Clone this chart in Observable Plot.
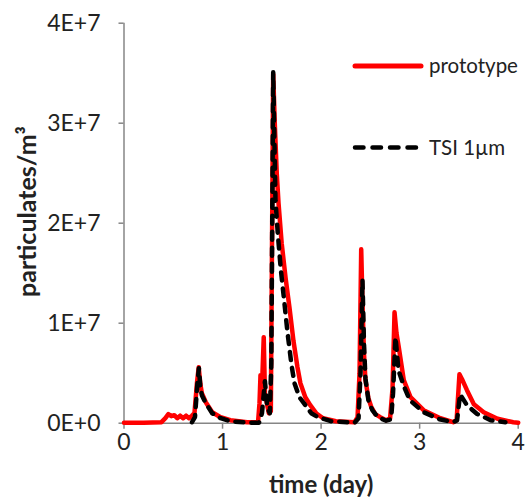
<!DOCTYPE html>
<html><head><meta charset="utf-8">
<script src="https://cdn.jsdelivr.net/npm/d3@7"></script>
<script src="https://cdn.jsdelivr.net/npm/@observablehq/plot@0.6"></script>
<style>
body{margin:0;background:#fff}
#wrap{position:relative;width:529px;height:499px;font-family:Lato,sans-serif;color:#222}
[aria-label="y-axis tick"],[aria-label="x-axis tick"]{stroke:#868686;stroke-width:1.5}
.leg{position:absolute;left:0;top:0}
</style></head><body><div id="wrap"></div>
<script>
// prototype series (red) — time in days, particulates per m³
const protoDay = [0,0.2,0.38,0.42,0.45,0.48,0.51,0.54,0.57,0.60,0.63,0.66,0.69,0.715,0.74,0.758,0.775,0.79,0.83,0.895,0.98,1.08,1.25,1.36,1.375,1.385,1.40,1.418,1.43,1.445,1.47,1.49,1.514,1.53,1.55,1.568,1.60,1.64,1.68,1.72,1.76,1.79,1.84,1.89,1.95,2.02,2.15,2.34,2.37,2.39,2.407,2.42,2.435,2.45,2.48,2.51,2.55,2.60,2.66,2.70,2.725,2.745,2.765,2.788,2.839,2.907,3.04,3.21,3.34,3.375,3.404,3.43,3.48,3.55,3.65,3.79,3.95,4.0];
const protoValue = [0.05e6,0.05e6,0.1e6,0.5e6,0.9e6,0.7e6,0.8e6,0.5e6,0.75e6,0.5e6,0.75e6,0.5e6,0.75e6,1.0e6,4.0e6,5.6e6,3.9e6,3.0e6,2.1e6,1.1e6,0.6e6,0.3e6,0.1e6,0.1e6,2.0e6,4.8e6,3.5e6,8.6e6,3.0e6,2.2e6,1.0e6,1.2e6,34.9e6,30e6,25e6,22e6,18e6,14.5e6,11.5e6,8.2e6,5.6e6,4.0e6,2.6e6,1.8e6,1.0e6,0.5e6,0.2e6,0.1e6,0.6e6,5e6,17.4e6,12e6,7e6,4.3e6,2.5e6,1.6e6,0.9e6,0.6e6,0.3e6,0.5e6,3.5e6,11.1e6,9.0e6,7.6e6,4.3e6,2.6e6,1.3e6,0.5e6,0.1e6,0.3e6,4.9e6,4.4e6,3.3e6,1.9e6,1.1e6,0.45e6,0.1e6,0.05e6];
// TSI 1µm series (black dashed)
const tsiDay = [0.69,0.72,0.745,0.76,0.775,0.79,0.83,0.895,0.98,1.08,1.25,1.37,1.40,1.43,1.455,1.48,1.495,1.514,1.525,1.537,1.56,1.59,1.628,1.66,1.70,1.73,1.78,1.84,1.90,1.97,2.1,2.34,2.38,2.40,2.42,2.435,2.45,2.48,2.52,2.56,2.60,2.66,2.71,2.73,2.755,2.785,2.836,2.90,3.04,3.2,3.34,3.38,3.41,3.48,3.58,3.72,3.87];
const tsiValue = [0.1e6,0.6e6,4.0e6,5.5e6,3.6e6,2.8e6,2.0e6,1.0e6,0.5e6,0.2e6,0.05e6,0.05e6,1.0e6,4.2e6,1.5e6,1.0e6,6e6,35.1e6,29e6,22.3e6,19e6,15.5e6,12e6,9e6,5.8e6,4.0e6,2.6e6,1.8e6,1.0e6,0.6e6,0.2e6,0.05e6,0.5e6,5e6,14.3e6,8e6,4.5e6,2.3e6,1.3e6,0.8e6,0.5e6,0.25e6,0.4e6,3e6,8.6e6,5.3e6,3.8e6,2.3e6,1.1e6,0.4e6,0.1e6,0.3e6,2.9e6,1.8e6,0.95e6,0.3e6,0.1e6];

const xTickValues = [0,1,2,3,4];
const xTickLabels = ["0","1","2","3","4"];
const yTickValues = [0,1e7,2e7,3e7,4e7];
const yTickLabels = ["0E+0","1E+7","2E+7","3E+7","4E+7"];
const xTitle = "time (day)";
const yTitle = "particulates/m³";
const seriesNames = ["prototype","TSI 1µm"];

const proto = protoDay.map((d,i)=>({day:d,value:protoValue[i]}));
const tsi = tsiDay.map((d,i)=>({day:d,value:tsiValue[i]}));

const chart = Plot.plot({
  width:529, height:499,
  marginLeft:123.5, marginRight:11.3, marginTop:22.7, marginBottom:76.3,
  style:{fontFamily:"Lato", fontSize:"23px", color:"#222", background:"#fff", overflow:"visible"},
  x:{domain:[0,4]},
  y:{domain:[0,4e7]},
  marks:[
    Plot.ruleY([0],{stroke:"#868686",strokeWidth:1.5}),
    Plot.ruleX([0],{stroke:"#868686",strokeWidth:1.5}),
    Plot.axisY({ticks:yTickValues, tickFormat:d=>yTickLabels[yTickValues.indexOf(d)], tickSize:5, tickPadding:18.5, label:null}),
    Plot.axisX({ticks:xTickValues, tickFormat:d=>xTickLabels[xTickValues.indexOf(d)], tickSize:6, tickPadding:4, label:null}),
    Plot.line(proto,{x:"day",y:"value",stroke:"#ff0000",strokeWidth:4.5,strokeLinejoin:"round"}),
    Plot.line(tsi,{x:"day",y:"value",stroke:"#000",strokeWidth:4.5,strokeDasharray:"8,8",strokeLinecap:"round",strokeLinejoin:"round"}),
    Plot.text([xTitle],{frameAnchor:"bottom",textAnchor:"middle",lineAnchor:"middle",dy:62,fontWeight:"bold",fontSize:24,fill:"#222"}),
    Plot.text([yTitle],{frameAnchor:"left",textAnchor:"middle",lineAnchor:"middle",rotate:-90,dx:-96.5,dy:-11.7,fontWeight:"bold",fontSize:25,fill:"#222"})
  ]
});
const wrap = document.getElementById("wrap");
wrap.appendChild(chart);

// legend overlay
const ns = "http://www.w3.org/2000/svg";
const leg = document.createElementNS(ns,"svg");
leg.setAttribute("class","leg");
leg.setAttribute("width","529"); leg.setAttribute("height","499");
const items = [
  {name:seriesNames[0], y:66, stroke:"#ff0000", w:5, dash:null},
  {name:seriesNames[1], y:147.5, stroke:"#000", w:4.5, dash:"8.5,9"}
];
for (const it of items){
  const l = document.createElementNS(ns,"line");
  l.setAttribute("x1",355); l.setAttribute("x2",421);
  l.setAttribute("y1",it.y); l.setAttribute("y2",it.y);
  l.setAttribute("stroke",it.stroke); l.setAttribute("stroke-width",it.w);
  l.setAttribute("stroke-linecap","round");
  if(it.dash) l.setAttribute("stroke-dasharray",it.dash);
  leg.appendChild(l);
  const t = document.createElementNS(ns,"text");
  t.setAttribute("x",429); t.setAttribute("y",it.y+7);
  t.setAttribute("font-family","Lato"); t.setAttribute("font-size","20.5");
  t.setAttribute("fill","#222");
  t.textContent = it.name;
  leg.appendChild(t);
}
wrap.appendChild(leg);
</script></body></html>
